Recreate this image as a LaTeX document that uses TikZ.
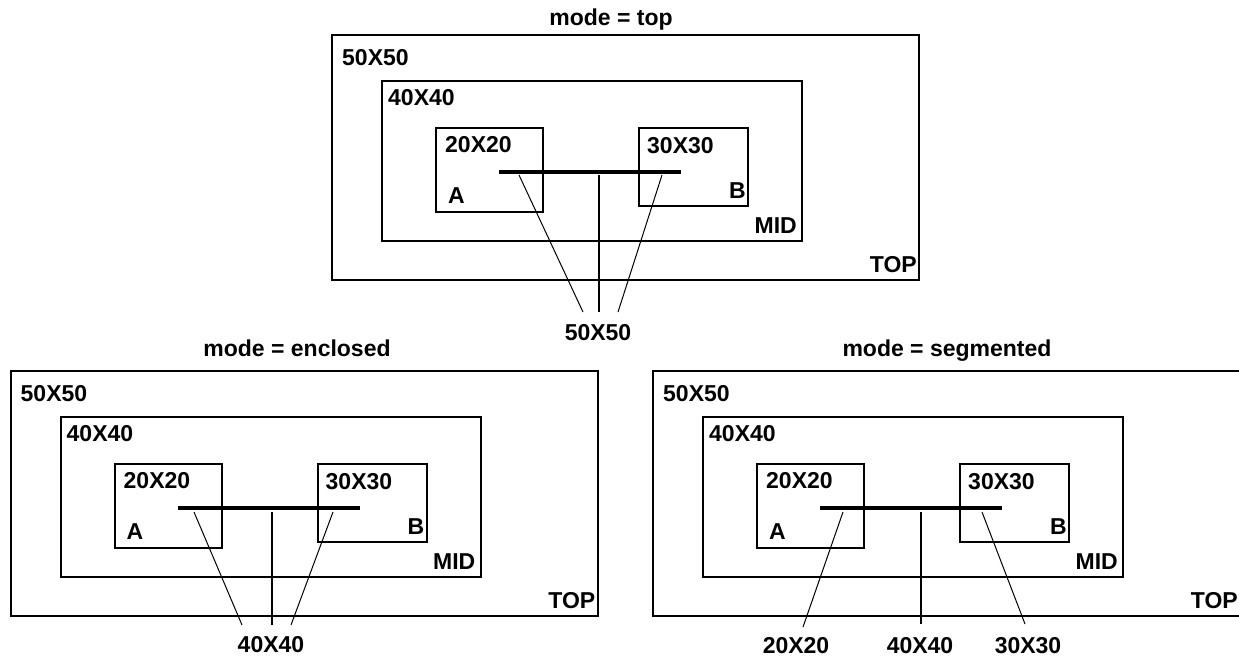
\documentclass[tikz,border=0pt]{standalone}
\usepackage{fontspec}
\setmainfont{Liberation Sans}
\usetikzlibrary{positioning}

\tikzset{
  box/.style={draw, line width=2pt, inner sep=0pt, outer sep=0pt, anchor=north west},
  lbl/.style={font=\fontsize{23}{23}\selectfont\bfseries, inner sep=0pt},
  bus/.style={line width=3.3pt},
  stem/.style={line width=2pt},
  leader/.style={line width=1pt}
}

% one nested TOP/MID/A/B block, #1 = name prefix, (#2,#3) = offset
\newcommand{\hierpanel}[3]{%
  \begin{scope}[shift={(#2,#3)}]
    \node[box, minimum width=587pt, minimum height=245pt] (#1top) at (332,35) {};
    \node[box, minimum width=420pt, minimum height=160pt] (#1mid) at (382,81) {};
    \node[box, minimum width=107pt, minimum height=84pt] (#1a) at (436,128) {};
    \node[box, minimum width=109pt, minimum height=78pt] (#1b) at (639,128) {};
    \node[lbl, anchor=base west] (#1dtop) at (342,65) {50X50};
    \node[lbl, anchor=base west] (#1dmid) at (388,105) {40X40};
    \node[lbl, anchor=base west] (#1da) at (445,152) {20X20};
    \node[lbl, anchor=base west] (#1db) at (647,153) {30X30};
    \node[lbl, anchor=base west] (#1na) at (448,203) {A};
    \node[lbl, anchor=base east] (#1nb) at (746,198) {B};
    \node[lbl, anchor=base east] (#1nmid) at (797,233) {MID};
    \node[lbl, anchor=base east] (#1ntop) at (917,272) {TOP};
    \coordinate (#1w) at (499,172);
    \coordinate (#1e) at (681,172);
    \draw[bus] (#1w) -- (#1e);
  \end{scope}}

\begin{document}
\begin{tikzpicture}[x=1pt, y=-1pt]
\useasboundingbox (0,0) rectangle (1239,656);

\hierpanel{t}{0}{0}
\hierpanel{e}{-321.5}{336}
\hierpanel{s}{321}{336}

\node[lbl, anchor=base] (ttitle) at (611,25) {mode = top};
\node[lbl, anchor=base] (etitle) at (297,356) {mode = enclosed};
\node[lbl, anchor=base] (stitle) at (947,356) {mode = segmented};

% mode = top
\node[lbl, anchor=base] (tdim) at (598,340) {50X50};
\coordinate (tpa) at (519,175);
\coordinate (tpc) at (599,175);
\coordinate (tpb) at (662,175);
\coordinate (tqa) at (583,312);
\coordinate (tqc) at (599,312);
\coordinate (tqb) at (618,312);
\draw[leader] (tpa) -- (tqa);
\draw[stem] (tpc) -- (tqc);
\draw[leader] (tpb) -- (tqb);

% mode = enclosed
\node[lbl, anchor=base] (edim) at (271,652) {40X40};
\coordinate (epa) at (194,512);
\coordinate (epc) at (272,512);
\coordinate (epb) at (333,512);
\coordinate (eqa) at (242,625);
\coordinate (eqc) at (272,625);
\coordinate (eqb) at (291,625);
\draw[leader] (epa) -- (eqa);
\draw[stem] (epc) -- (eqc);
\draw[leader] (epb) -- (eqb);

% mode = segmented
\node[lbl, anchor=base] (sdima) at (796,653) {20X20};
\node[lbl, anchor=base] (sdimc) at (920,653) {40X40};
\node[lbl, anchor=base] (sdimb) at (1028,653) {30X30};
\coordinate (spa) at (843,512);
\coordinate (spc) at (921,512);
\coordinate (spb) at (982,512);
\coordinate (sqa) at (803,627);
\coordinate (sqc) at (921,624);
\coordinate (sqb) at (1025,624);
\draw[leader] (spa) -- (sqa);
\draw[stem] (spc) -- (sqc);
\draw[leader] (spb) -- (sqb);
\end{tikzpicture}
\end{document}
